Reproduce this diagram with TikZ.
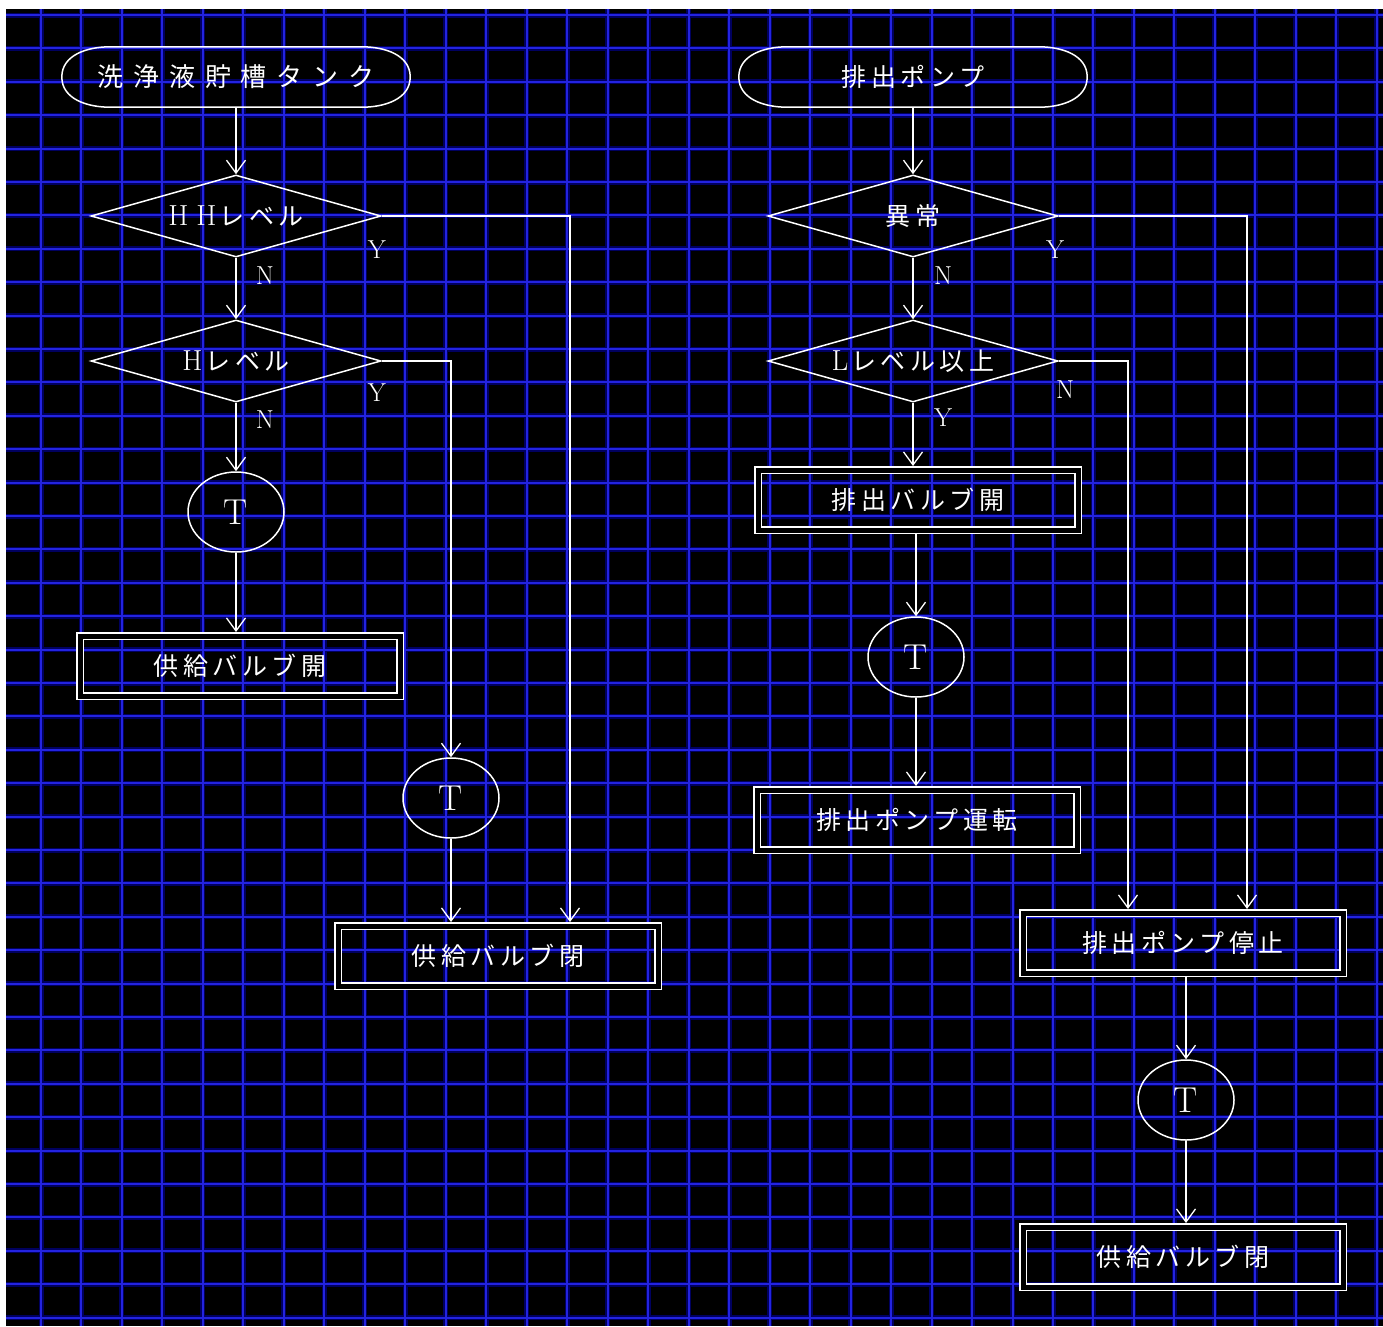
\documentclass[tikz,border=0pt]{standalone}
\usepackage{fontspec}
\newfontfamily\jp[LetterSpace=18]{Noto Sans CJK JP}
\newfontfamily\jpwide[LetterSpace=38]{Noto Sans CJK JP}
\usetikzlibrary{shapes.geometric,arrows.meta,calc}
\definecolor{gridblue}{RGB}{35,35,225}
\definecolor{gridglow}{RGB}{0,0,95}
\newcommand\wl[1]{{\rmfamily\fontsize{29}{29}\selectfont#1}}
\tikzset{
  flow/.style={draw=white, line width=1.5pt},
  arr/.style={flow, -{Straight Barb[length=13pt,width=19pt,line width=1.3pt]}},
  termbox/.style={minimum width=348pt, minimum height=60pt, text=white,
    font=\jp\fontsize{25}{25}\selectfont},
  decbox/.style={flow, diamond, aspect=3.5, inner sep=0pt, minimum width=290pt,
    minimum height=82pt, text=white, font=\jp\fontsize{25}{25}\selectfont},
  procbox/.style={draw=white, line width=1.4pt, double=black, double distance=5pt,
    minimum width=320pt, minimum height=60pt, outer sep=4pt, text=white,
    font=\jp\fontsize{25}{25}\selectfont},
  timer/.style={flow, ellipse, minimum width=96pt, minimum height=80pt, inner sep=0pt,
    text=white, font=\fontsize{36}{36}\selectfont},
  yn/.style={text=white, font=\fontsize{26}{26}\selectfont},
}
\begin{document}
\begin{tikzpicture}[x=1pt,y=-1pt]
\useasboundingbox (0,0) rectangle (1383,1326);
\fill[white] (0,0) rectangle (1383,1326);
\fill[black] (6,9) rectangle (1383,1326);
% grid
\foreach \i in {0,...,33}
  \draw[gridglow, line width=5pt] ({41+40.48*\i},9) -- ({41+40.48*\i},1326);
\foreach \j in {0,...,39}
  \draw[gridglow, line width=5pt] (6,{15+33.4*\j}) -- (1383,{15+33.4*\j});
\foreach \i in {0,...,33}
  \draw[gridblue, line width=2pt] ({41+40.48*\i},9) -- ({41+40.48*\i},1326);
\foreach \j in {0,...,39}
  \draw[gridblue, line width=2pt] (6,{15+33.4*\j}) -- (1383,{15+33.4*\j});

% tank side
\node[termbox, font=\jpwide\fontsize{26}{26}\selectfont] (tank) at (236,77) {洗浄液貯槽タンク};
\node[decbox] (hh) at (236,216) {\wl{H}\hspace{8pt}\wl{H}\hspace{3pt}レベル};
\node[decbox] (h) at (236,361) {\wl{H}\hspace{3pt}レベル};
\node[timer] (t1) at (236,512) {T};
\node[procbox] (open1) at (240,666) {供給バルブ開};
\node[timer] (t2) at (451,798) {T};
\node[procbox] (close1) at (498,956) {供給バルブ閉};

% pump side
\node[termbox] (pump) at (913,77) {排出ポンプ};
\node[decbox] (err) at (913,216) {異常};
\node[decbox] (low) at (913,361) {\wl{L}\hspace{3pt}レベル以上};
\node[procbox] (drain) at (918,500) {排出バルブ開};
\node[timer] (t3) at (916,657) {T};
\node[procbox] (run) at (917,820) {排出ポンプ運転};
\node[procbox] (stop) at (1183,943) {排出ポンプ停止};
\node[timer] (t4) at (1186,1100) {T};
\node[procbox] (close2) at (1183,1257) {供給バルブ閉};

% terminal outlines
\foreach \t in {tank,pump}
  \draw[flow] ([xshift=48pt]\t.north west) -- ([xshift=-48pt]\t.north east)
    to[out=0,in=90] (\t.east) to[out=-90,in=0] ([xshift=-48pt]\t.south east)
    -- ([xshift=48pt]\t.south west) to[out=180,in=-90] (\t.west)
    to[out=90,in=180] ([xshift=48pt]\t.north west);

\node[yn] (y1) at (377,250) {Y};
\node[yn] (n1) at (265,276) {N};
\node[yn] (y2) at (377,393) {Y};
\node[yn] (n2) at (265,420) {N};
\node[yn] (y3) at (1055,250) {Y};
\node[yn] (n3) at (943,276) {N};
\node[yn] (n4) at (1065,390) {N};
\node[yn] (y4) at (943,418) {Y};

\coordinate (hhx) at (570,0);
\coordinate (errx) at (1247,0);
\coordinate (lowx) at (1128,0);

\draw[arr] (tank.south) -- (hh);
\draw[arr] (hh) -- (h);
\draw[arr] (h) -- (t1);
\draw[arr] (t1) -- (t1 |- open1.north);
\draw[arr] (hh.east) -| (hhx |- close1.north);
\draw[arr] (h.east) -| (t2.north);
\draw[arr] (t2) -- (t2 |- close1.north);

\draw[arr] (pump.south) -- (err);
\draw[arr] (err) -- (low);
\draw[arr] (low.south) -- (low.south |- drain.north);
\draw[arr] (drain.south -| t3) -- (t3.north);
\draw[arr] (t3) -- (t3 |- run.north);
\draw[arr] (err.east) -| (errx |- stop.north);
\draw[arr] (low.east) -| (lowx |- stop.north);
\draw[arr] (stop.south -| t4) -- (t4.north);
\draw[arr] (t4) -- (t4 |- close2.north);
\end{tikzpicture}
\end{document}
